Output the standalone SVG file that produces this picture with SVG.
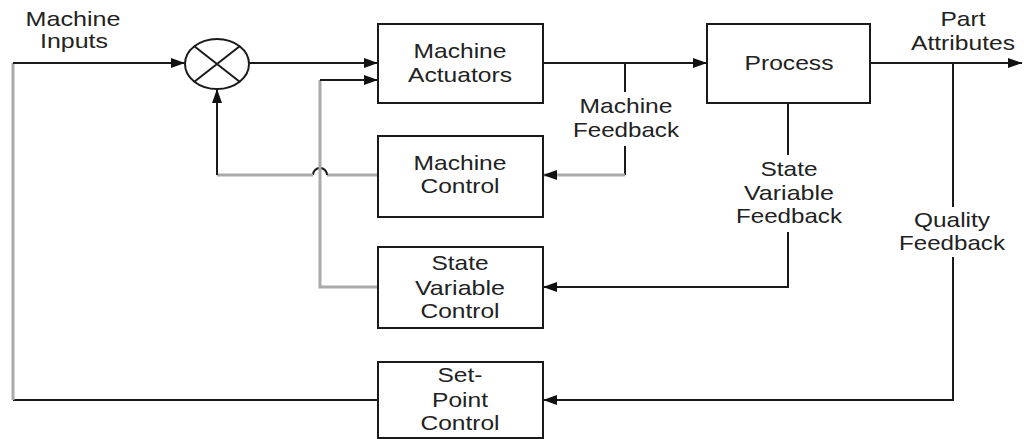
<svg xmlns="http://www.w3.org/2000/svg" width="1024" height="439" viewBox="0 0 1024 439">
<style>
.box{fill:#fff;stroke:#1a1a1a;stroke-width:2}
.t{font-family:"Liberation Sans",Arial,sans-serif;font-size:21px;fill:#222;text-anchor:middle}
.k{fill:none;stroke:#1a1a1a;stroke-width:2}
.g{fill:none;stroke:#aaaaaa;stroke-width:3}
</style>
<defs>
<marker id="ah" viewBox="0 0 14 10" refX="14" refY="5" markerWidth="14" markerHeight="10" markerUnits="userSpaceOnUse" orient="auto">
<path d="M0,0 L14,5 L0,10 Z" fill="#111"/>
</marker>
</defs>
<g id="connectors">
<path class="k" d="M378,400 H13"/>
<path class="g" d="M13,400 V63"/>
<path class="k" d="M13,63 H185" marker-end="url(#ah)"/>
<path class="k" d="M249,63 H378" marker-end="url(#ah)"/>
<path class="k" d="M543,63 H707" marker-end="url(#ah)"/>
<path class="k" d="M870,63 H1022" marker-end="url(#ah)"/>
<path class="k" d="M625,63 V92 M625,146 V175"/>
<path class="g" d="M625,175 H543" marker-end="url(#ah)"/>
<path class="g" d="M378,175 H327"/>
<path class="k" d="M327,175 A7,7 0 0 0 313,175"/>
<path class="g" d="M313,175 H217"/>
<path class="k" d="M217,175 V89" marker-end="url(#ah)"/>
<path class="g" d="M378,287 H320 V80"/>
<path class="k" d="M320,80 H378" marker-end="url(#ah)"/>
<path class="k" d="M788,103 V155 M788,232 V287 H543" marker-end="url(#ah)"/>
<path class="k" d="M953,63 V207 M953,257 V400 H543" marker-end="url(#ah)"/>
</g>
<g id="sum">
<ellipse cx="217" cy="64" rx="32" ry="25" class="k" fill="#fff"/>
<path class="k" d="M194,46 L240,82 M240,46 L194,82"/>
</g>
<g id="machine-actuators">
<rect class="box" x="378" y="24" width="165" height="79"/>
<text class="t" x="460" y="58" textLength="93" lengthAdjust="spacingAndGlyphs">Machine</text>
<text class="t" x="460" y="82" textLength="104" lengthAdjust="spacingAndGlyphs">Actuators</text>
</g>
<g id="process">
<rect class="box" x="707" y="24" width="163" height="79"/>
<text class="t" x="789" y="70" textLength="89" lengthAdjust="spacingAndGlyphs">Process</text>
</g>
<g id="machine-control">
<rect class="box" x="378" y="136" width="165" height="81"/>
<text class="t" x="460" y="170" textLength="93" lengthAdjust="spacingAndGlyphs">Machine</text>
<text class="t" x="460" y="193" textLength="79" lengthAdjust="spacingAndGlyphs">Control</text>
</g>
<g id="state-variable-control">
<rect class="box" x="378" y="247" width="165" height="81"/>
<text class="t" x="460" y="270" textLength="57" lengthAdjust="spacingAndGlyphs">State</text>
<text class="t" x="460" y="295" textLength="90" lengthAdjust="spacingAndGlyphs">Variable</text>
<text class="t" x="460" y="318" textLength="79" lengthAdjust="spacingAndGlyphs">Control</text>
</g>
<g id="set-point-control">
<rect class="box" x="378" y="362" width="165" height="76"/>
<text class="t" x="460" y="382" textLength="45" lengthAdjust="spacingAndGlyphs">Set-</text>
<text class="t" x="460" y="407" textLength="56" lengthAdjust="spacingAndGlyphs">Point</text>
<text class="t" x="460" y="430" textLength="79" lengthAdjust="spacingAndGlyphs">Control</text>
</g>
<g id="labels">
<text class="t" x="73" y="26" textLength="95" lengthAdjust="spacingAndGlyphs">Machine</text>
<text class="t" x="74" y="48" textLength="68" lengthAdjust="spacingAndGlyphs">Inputs</text>
<text class="t" x="626" y="113" textLength="93" lengthAdjust="spacingAndGlyphs">Machine</text>
<text class="t" x="626" y="137" textLength="106" lengthAdjust="spacingAndGlyphs">Feedback</text>
<text class="t" x="963" y="26" textLength="45" lengthAdjust="spacingAndGlyphs">Part</text>
<text class="t" x="963" y="50" textLength="104" lengthAdjust="spacingAndGlyphs">Attributes</text>
<text class="t" x="789" y="176" textLength="57" lengthAdjust="spacingAndGlyphs">State</text>
<text class="t" x="789" y="200" textLength="90" lengthAdjust="spacingAndGlyphs">Variable</text>
<text class="t" x="789" y="223" textLength="106" lengthAdjust="spacingAndGlyphs">Feedback</text>
<text class="t" x="952" y="227" textLength="76" lengthAdjust="spacingAndGlyphs">Quality</text>
<text class="t" x="952" y="250" textLength="106" lengthAdjust="spacingAndGlyphs">Feedback</text>
</g>
</svg>
